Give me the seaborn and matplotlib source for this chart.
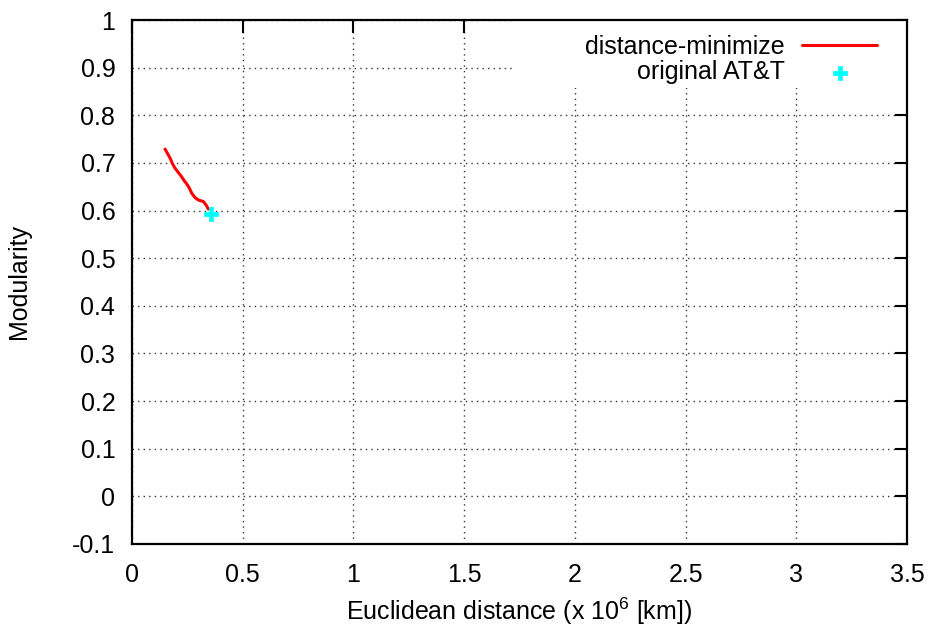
import matplotlib
matplotlib.use("Agg")
import matplotlib.pyplot as plt
from matplotlib.patches import Rectangle
import seaborn as sns
import pandas as pd

# distance-minimize trajectory (x in 10^6 km, modularity)
dist_x = [0.149, 0.160, 0.172, 0.182, 0.194, 0.209, 0.224, 0.235, 0.247,
          0.259, 0.270, 0.285, 0.300, 0.322, 0.334, 0.345]
dist_y = [0.729, 0.720, 0.710, 0.699, 0.689, 0.680, 0.671, 0.663, 0.656,
          0.647, 0.636, 0.627, 0.622, 0.619, 0.612, 0.603]

# original AT&T network
orig_x = [0.357]
orig_y = [0.592]

x_ticks = [0, 0.5, 1, 1.5, 2, 2.5, 3, 3.5]
x_tick_labels = ["0", "0.5", "1", "1.5", "2", "2.5", "3", "3.5"]
y_ticks = [-0.1, 0, 0.1, 0.2, 0.3, 0.4, 0.5, 0.6, 0.7, 0.8, 0.9, 1]
y_tick_labels = ["-0.1", "0", "0.1", "0.2", "0.3", "0.4", "0.5", "0.6",
                 "0.7", "0.8", "0.9", "1"]

FS = 18

sns.set_style("white")
plt.rcParams["font.family"] = ["Liberation Sans", "DejaVu Sans"]
plt.rcParams["mathtext.fontset"] = "custom"
plt.rcParams["mathtext.rm"] = "Liberation Sans"
plt.rcParams["text.color"] = "black"
plt.rcParams["axes.labelcolor"] = "black"

fig = plt.figure(figsize=(9.37, 6.31), dpi=100)
ax = fig.add_axes([0.1409, 0.1379, 0.968 - 0.1409, 0.9683 - 0.1379])

line_df = pd.DataFrame({"x": dist_x, "y": dist_y})
pt_df = pd.DataFrame({"x": orig_x, "y": orig_y})

sns.lineplot(data=line_df, x="x", y="y", ax=ax, color="red", linewidth=2.2,
             sort=False, label="distance-minimize", zorder=3)
sns.scatterplot(data=pt_df, x="x", y="y", ax=ax, color="cyan", marker="P",
                s=110, edgecolor="cyan", linewidth=0.5,
                label="original AT&T", zorder=4)

ax.set_xlim(0, 3.5)
ax.set_ylim(-0.1, 1)
ax.set_xticks(x_ticks)
ax.set_xticklabels(x_tick_labels)
ax.set_yticks(y_ticks)
ax.set_yticklabels(y_tick_labels)

ax.set_axisbelow(True)
ax.grid(True, linestyle=(0, (1, 3)), color="#333333", linewidth=1.0)
for s in ax.spines.values():
    s.set_visible(True)
    s.set_linewidth(1.6)
    s.set_color("black")
    s.set_zorder(5)

# blank area behind the key, interrupting the grid
ax.add_patch(Rectangle((0.494, 0.870), 0.506, 0.130, transform=ax.transAxes,
                       facecolor="white", edgecolor="none", zorder=1))

ax.tick_params(axis="both", which="major", direction="in", length=9,
               width=1.5, labelsize=FS, top=True, right=True, pad=12,
               colors="black")
ax.tick_params(axis="x", pad=14)

ax.set_xlabel("Euclidean distance (x 10$^{\\mathregular{6}}$ [km])",
              fontsize=FS, labelpad=6)
ax.set_ylabel("Modularity", fontsize=FS, labelpad=30)

leg = ax.legend(loc="upper right", bbox_to_anchor=(0.976, 0.993),
                markerfirst=False, frameon=False, fontsize=FS,
                handlelength=3.0, handletextpad=0.7, labelspacing=0.05,
                borderpad=0.45, borderaxespad=0.0)
leg.set_zorder(6)
for t in leg.get_texts():
    t.set_color("black")

fig.savefig("out.png", dpi=100)
